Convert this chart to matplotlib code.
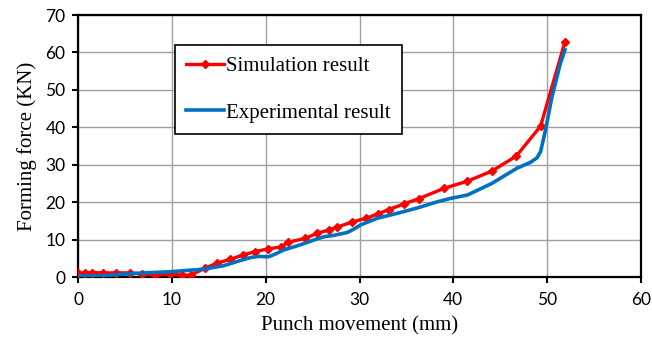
import numpy as np
import matplotlib
matplotlib.use('Agg')
import matplotlib.pyplot as plt

# simulation (FE) result
sim_x = [0, 0.75, 1.5, 2.7, 4.1, 5.5, 6.8, 8.2, 9.8, 11.1, 12.0, 13.5, 14.8, 16.2,
         17.6, 18.9, 20.2, 21.6, 22.4, 24.2, 25.5, 26.8, 27.6, 29.2, 30.7, 32.0,
         33.1, 34.7, 36.3, 39.0, 41.5, 44.1, 46.7, 49.3, 51.9]
sim_y = [1.0, 1.1, 1.2, 1.1, 1.1, 1.1, 0.8, 0.5, 0.8, 0.5, 0.5, 2.3, 3.7, 4.7,
         5.9, 6.8, 7.5, 8.0, 9.3, 10.3, 11.7, 12.6, 13.3, 14.7, 15.7, 16.9,
         18.0, 19.5, 20.9, 23.7, 25.6, 28.3, 32.3, 40.3, 62.9]

# experimental result
exp_x = [0, 2.7, 6.2, 9.8, 13.4, 15.5, 16.9, 18.4, 19.3, 20.3, 21.0, 21.9, 23.7,
         25.5, 26.3, 27.2, 28.7, 29.4, 30.1, 31.9, 34.0, 36.1, 38.3, 39.7, 41.5,
         44.1, 46.8, 48.2, 48.9, 49.3, 49.8, 50.5, 51.4, 51.9]
exp_y = [0.3, 0.35, 1.0, 1.4, 2.1, 3.0, 4.1, 5.2, 5.5, 5.4, 6.1, 7.2, 8.6,
         10.2, 10.8, 11.1, 11.9, 12.8, 13.9, 15.7, 17.0, 18.4, 20.1, 21.0, 21.9,
         25.0, 29.1, 30.6, 31.8, 33.5, 39.0, 48.0, 57.0, 60.7]

fig = plt.figure(figsize=(6.52, 3.44), dpi=100, facecolor='w')
ax = fig.add_axes([78/652, 1-277/344, 563/652, 262/344])

ax.plot(sim_x, sim_y, color='#ff0000', lw=2.4, marker='D', ms=4.5,
        label='Simulation result', zorder=3)
ax.plot(exp_x, exp_y, color='#0070c0', lw=2.6, label='Experimental result',
        zorder=4, solid_joinstyle='round')

ax.set_xlim(0, 60)
ax.set_ylim(0, 70)
ax.set_xticks(np.arange(0, 61, 10))
ax.set_yticks(np.arange(0, 71, 10))
ax.grid(color='#a0a0a0', linewidth=1)
ax.set_axisbelow(True)
for s in ax.spines.values():
    s.set_linewidth(1.6)
    s.set_color('black')
ax.tick_params(direction='out', length=4, width=1.5, labelsize=12.5)
ax.tick_params(axis='x', pad=7)
ax.tick_params(axis='y', pad=5)
for lab in ax.get_xticklabels() + ax.get_yticklabels():
    lab.set_family('Lato')

ax.set_xlabel('Punch movement (mm)', family='Liberation Serif', fontsize=15, labelpad=6)
ax.set_ylabel('Forming force (KN)', family='Liberation Serif', fontsize=15, labelpad=6)

leg = ax.legend(loc='upper left', bbox_to_anchor=(175/652, 1-45/344),
                bbox_transform=fig.transFigure, borderaxespad=0,
                prop={'family': 'Liberation Serif', 'size': 15},
                fancybox=False, framealpha=1, edgecolor='black',
                handlelength=1.8, handletextpad=0.1, labelspacing=1.3,
                borderpad=0.55)
leg.get_frame().set_linewidth(1.2)

fig.savefig('out.png', dpi=100)
